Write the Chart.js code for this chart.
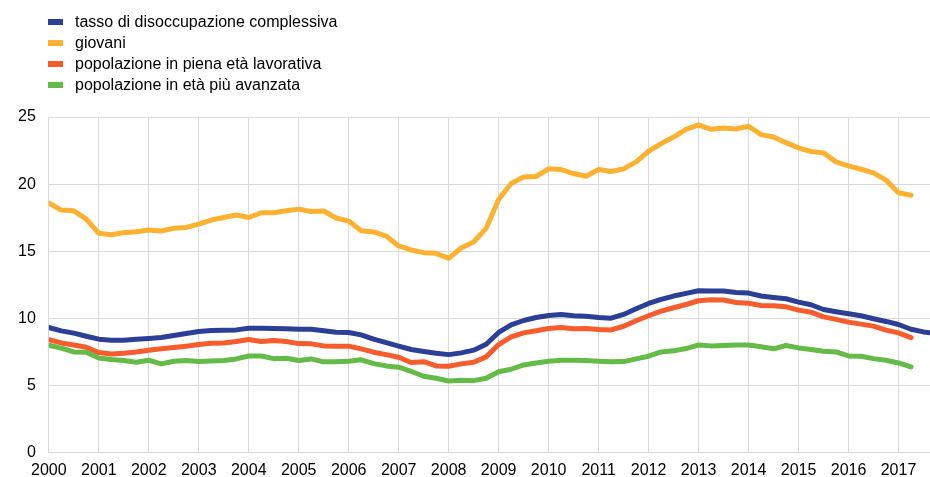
<!DOCTYPE html>
<html>
<head>
<meta charset="utf-8">
<script src="https://cdn.jsdelivr.net/npm/chart.js@4/dist/chart.umd.min.js"></script>
<style>
  html, body { margin: 0; padding: 0; background: #fff; overflow: hidden; }
  #wrap { position: absolute; left: 0; top: 0; width: 930px; height: 489px; }
  #legend { position: absolute; left: 0; top: 0; font-family: "Liberation Sans", Arial, sans-serif; font-size: 16px; color: #000; }
  .item { position: absolute; left: 48px; white-space: nowrap; height: 20px; }
  .item span.box { position: absolute; left: 0; top: 7px; width: 15px; height: 6px; }
  .item span.txt { position: absolute; left: 27px; top: 0; line-height: 20px; }
</style>
</head>
<body>
<div id="wrap"><canvas id="lineChart"></canvas></div>
<div id="legend"></div>
<script>
// quarterly series, first point = 2000 Q1
var startYear = 2000;
var yearTicks = [2000, 2001, 2002, 2003, 2004, 2005, 2006, 2007, 2008, 2009, 2010, 2011, 2012, 2013, 2014, 2015, 2016, 2017];

var seriesNames = ['tasso di disoccupazione complessiva', 'giovani', 'popolazione in piena età lavorativa', 'popolazione in età più avanzata'];
var seriesColors = ['#2b3f96', '#fdb130', '#f65c2c', '#64bb47'];

var totale = [9.33, 9.08, 8.91, 8.68, 8.46, 8.38, 8.38, 8.46, 8.51, 8.58, 8.73, 8.88, 9.03, 9.10, 9.13, 9.15, 9.28, 9.28, 9.25, 9.23, 9.20, 9.20, 9.08, 8.98,
  8.96, 8.78, 8.46, 8.20, 7.94, 7.69, 7.54, 7.41, 7.31, 7.44, 7.64, 8.08, 8.96, 9.53, 9.85, 10.07, 10.22, 10.30, 10.20, 10.17, 10.07, 10.02, 10.30, 10.72,
  11.12, 11.42, 11.67, 11.87, 12.06, 12.04, 12.04, 11.94, 11.89, 11.67, 11.57, 11.47, 11.22, 11.02, 10.67, 10.50, 10.35, 10.20, 9.98, 9.78, 9.55, 9.20, 9.00, 8.88];

var giovani = [18.60, 18.07, 18.02, 17.40, 16.34, 16.24, 16.39, 16.46, 16.58, 16.51, 16.71, 16.78, 17.03, 17.33, 17.52, 17.70, 17.52, 17.87, 17.87, 18.02,
  18.14, 17.97, 18.00, 17.48, 17.25, 16.53, 16.44, 16.14, 15.40, 15.10, 14.90, 14.85, 14.48, 15.25, 15.69, 16.71, 18.86, 20.05, 20.54, 20.57,
  21.14, 21.09, 20.79, 20.59, 21.09, 20.94, 21.14, 21.66, 22.45, 23.02, 23.51, 24.08, 24.41, 24.08, 24.18, 24.11, 24.31, 23.69, 23.51, 23.09,
  22.70, 22.43, 22.33, 21.66, 21.36, 21.11, 20.84, 20.30, 19.36, 19.18];

var pienaEta = [8.43, 8.18, 8.03, 7.86, 7.46, 7.36, 7.41, 7.51, 7.64, 7.74, 7.84, 7.94, 8.06, 8.16, 8.18, 8.28, 8.43, 8.28, 8.36, 8.28, 8.13, 8.11, 7.96, 7.94,
  7.94, 7.74, 7.49, 7.31, 7.11, 6.72, 6.78, 6.47, 6.44, 6.62, 6.74, 7.14, 8.06, 8.63, 8.93, 9.08, 9.25, 9.33, 9.23, 9.25, 9.18, 9.15, 9.42, 9.83,
  10.20, 10.55, 10.80, 11.04, 11.32, 11.39, 11.37, 11.19, 11.14, 10.97, 10.95, 10.87, 10.62, 10.47, 10.12, 9.93, 9.73, 9.58, 9.43, 9.13, 8.93, 8.58];

var avanzata = [8.01, 7.79, 7.51, 7.49, 7.06, 6.94, 6.87, 6.74, 6.89, 6.62, 6.82, 6.87, 6.79, 6.84, 6.87, 6.99, 7.21, 7.21, 7.01, 7.04, 6.87, 6.99, 6.77, 6.77,
  6.82, 6.92, 6.64, 6.47, 6.37, 6.07, 5.70, 5.55, 5.35, 5.40, 5.37, 5.55, 6.04, 6.22, 6.54, 6.69, 6.82, 6.89, 6.89, 6.87, 6.82, 6.77, 6.79, 6.99,
  7.19, 7.51, 7.59, 7.76, 8.03, 7.96, 7.99, 8.03, 8.03, 7.89, 7.74, 7.99, 7.81, 7.69, 7.56, 7.51, 7.21, 7.19, 7.01, 6.89, 6.69, 6.39];

var yTicks = [0, 5, 10, 15, 20, 25];

function toPoints(arr) {
    var pts = [];
    for (var i = 0; i < arr.length; i++) {
        pts.push({ x: startYear + i / 4, y: arr[i] });
    }
    return pts;
}

function buildLegend() {
    var el = document.getElementById('legend');
    for (var i = 0; i < seriesNames.length; i++) {
        var row = document.createElement('div');
        row.className = 'item';
        row.style.top = (12 + i * 21) + 'px';
        row.innerHTML = '<span class="box" style="background:' + seriesColors[i] + '"></span><span class="txt">' + seriesNames[i] + '</span>';
        el.appendChild(row);
    }
}

function renderChart() {
    var allSeries = [totale, giovani, pienaEta, avanzata];
    var datasets = [];
    // drawn so that the blue line ends up on top
    var order = [1, 3, 2, 0];
    for (var k = 0; k < order.length; k++) {
        var i = order[k];
        datasets.push({
            label: seriesNames[i],
            data: toPoints(allSeries[i]),
            borderColor: seriesColors[i],
            backgroundColor: seriesColors[i],
            borderWidth: 5,
            borderCapStyle: 'round',
            borderJoinStyle: 'round',
            pointRadius: 0,
            tension: 0,
            fill: false
        });
    }

    var gridColor = '#d9d9d9';
    var tickFont = { family: '"Liberation Sans", Arial, sans-serif', size: 16 };

    var ctx = document.getElementById('lineChart').getContext('2d');
    new Chart(ctx, {
        type: 'line',
        data: { datasets: datasets },
        options: {
            responsive: true,
            maintainAspectRatio: false,
            animation: false,
            layout: { padding: { top: 117, left: 5, right: 0, bottom: 0 } },
            plugins: { legend: { display: false }, tooltip: { enabled: false } },
            scales: {
                x: {
                    type: 'linear',
                    min: startYear,
                    max: 2017.63,
                    afterBuildTicks: function(scale) {
                        scale.ticks = yearTicks.map(function(v) { return { value: v }; });
                    },
                    ticks: {
                        autoSkip: false,
                        maxRotation: 0,
                        padding: 8.5,
                        color: '#000',
                        font: tickFont,
                        callback: function(v) { return String(v); }
                    },
                    grid: { color: gridColor, lineWidth: 1, drawTicks: false },
                    border: { color: gridColor, width: 1 }
                },
                y: {
                    min: 0,
                    max: 25,
                    afterBuildTicks: function(scale) {
                        scale.ticks = yTicks.map(function(v) { return { value: v }; });
                    },
                    ticks: { padding: 13, color: '#000', font: tickFont },
                    grid: { color: gridColor, lineWidth: 1, drawTicks: false },
                    border: { color: gridColor, width: 1 }
                }
            }
        }
    });
}

buildLegend();
renderChart();
</script>
</body>
</html>
